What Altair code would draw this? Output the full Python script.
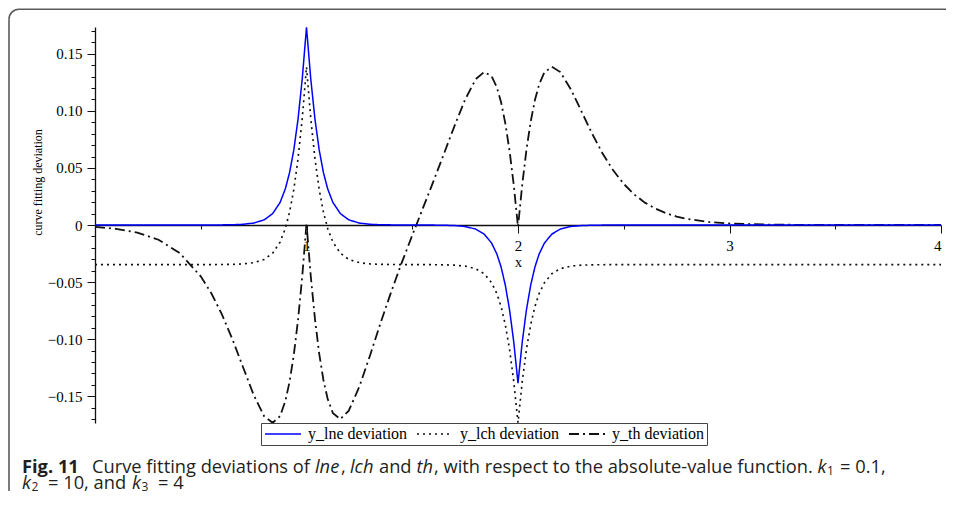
import altair as alt
import pandas as pd

# ---------------- data ----------------
X = [0.0, 0.1, 0.2, 0.3, 0.4, 0.5, 0.55, 0.6, 0.65, 0.7, 0.75, 0.8, 0.84, 0.875, 0.9, 0.92, 0.94, 0.96, 0.98, 1.0,
     1.02, 1.04, 1.06, 1.08, 1.1, 1.125, 1.16, 1.2, 1.25, 1.3, 1.35, 1.4, 1.45, 1.5,
     1.55, 1.6, 1.65, 1.7, 1.75, 1.8, 1.84, 1.875, 1.9, 1.92, 1.94, 1.96, 1.98, 2.0,
     2.02, 2.04, 2.06, 2.08, 2.1, 2.125, 2.16, 2.2, 2.25, 2.3, 2.35, 2.4, 2.45, 2.5,
     2.55, 2.6, 2.65, 2.7, 2.75, 2.8, 2.9, 3.0, 3.2, 3.4, 3.6, 3.8, 4.0]

LNE = [0, 0, 0, 0, 0, 0, 0, 0.0001, 0.0002, 0.0006, 0.0017, 0.0045, 0.0100, 0.0197, 0.0317, 0.0460, 0.0658, 0.0928, 0.1283, 0.1733,
       0.1283, 0.0928, 0.0658, 0.0460, 0.0317, 0.0197, 0.0100, 0.0045, 0.0017, 0.0006, 0.0002, 0.0001, 0, 0,
       0, -0.0001, -0.0002, -0.0005, -0.0013, -0.0036, -0.0080, -0.0158, -0.0254, -0.0368, -0.0527, -0.0742, -0.1026, -0.1386,
       -0.1026, -0.0742, -0.0527, -0.0368, -0.0254, -0.0158, -0.0080, -0.0036, -0.0013, -0.0005, -0.0002, -0.0001, 0, 0,
       0, 0, 0, 0, 0, 0, 0, 0, 0, 0, 0, 0, 0]

LCH = [-0.0347, -0.0347, -0.0347, -0.0347, -0.0347, -0.0347, -0.0347, -0.0346, -0.0345, -0.0341, -0.0330, -0.0302, -0.0247,
       -0.0150, -0.0030, 0.0113, 0.0311, 0.0581, 0.0936, 0.1386,
       0.0936, 0.0581, 0.0311, 0.0113, -0.0030, -0.0150, -0.0247, -0.0302, -0.0330, -0.0341, -0.0345, -0.0346, -0.0347, -0.0347,
       -0.0347, -0.0348, -0.0349, -0.0352, -0.0360, -0.0383, -0.0427, -0.0505, -0.0601, -0.0715, -0.0874, -0.1089, -0.1373, -0.1733,
       -0.1373, -0.1089, -0.0874, -0.0715, -0.0601, -0.0505, -0.0427, -0.0383, -0.0360, -0.0352, -0.0349, -0.0348, -0.0347, -0.0347,
       -0.0347, -0.0347, -0.0347, -0.0347, -0.0347, -0.0347, -0.0347, -0.0347, -0.0347, -0.0347, -0.0347, -0.0347, -0.0347]

TH = [-0.0017, -0.0034, -0.0066, -0.0129, -0.0245, -0.0450, -0.0598, -0.0783, -0.1002, -0.1246, -0.1488, -0.1677, -0.1733,
      -0.1675, -0.1543, -0.1373, -0.1138, -0.0831, -0.0448, 0.0013,
      -0.0445, -0.0823, -0.1127, -0.1358, -0.1523, -0.1649, -0.1701, -0.1627, -0.1416, -0.1145, -0.0860, -0.0588, -0.0332, -0.0090,
      0.0145, 0.0382, 0.0625, 0.0869, 0.1099, 0.1278, 0.1341, 0.1305, 0.1206, 0.1076, 0.0891, 0.0651, 0.0349, -0.0017,
      0.0353, 0.0660, 0.0906, 0.1095, 0.1232, 0.1338, 0.1386, 0.1340, 0.1189, 0.0996, 0.0802, 0.0626, 0.0479, 0.0360,
      0.0267, 0.0196, 0.0143, 0.0103, 0.0074, 0.0053, 0.0027, 0.0013, 0.0003, 0.0001, 0.0, 0.0, 0.0]

SERIES = ["y_lne deviation", "y_lch deviation", "y_th deviation"]
# y ticks every 0.01 (labelled every 0.05), x ticks every 0.5 (labelled every 1)
Y_TICKS = [-0.17, -0.16, -0.15, -0.14, -0.13, -0.12, -0.11, -0.10, -0.09, -0.08, -0.07, -0.06, -0.05, -0.04,
           -0.03, -0.02, -0.01, 0, 0.01, 0.02, 0.03, 0.04, 0.05, 0.06, 0.07, 0.08, 0.09, 0.10, 0.11, 0.12,
           0.13, 0.14, 0.15, 0.16, 0.17]
X_TICKS = [0.5, 1, 1.5, 2, 2.5, 3, 3.5, 4]
X_DOMAIN = [0, 4]
Y_DOMAIN = [-0.1735, 0.1735]

# ---------------- layout ----------------
W, H = 846, 396
PAD_L, PAD_T, PAD_R, PAD_B = 87, 19, 7, 71
SVG_W, SVG_H = PAD_L + W + PAD_R, PAD_T + H + PAD_B
SERIF = "Liberation Serif"
SANS = "Open Sans"
INK = "#111111"
FRAME = "#5a5a5a"
y0 = H * (Y_DOMAIN[1] - 0) / (Y_DOMAIN[1] - Y_DOMAIN[0])   # pixel row of y = 0

rows = []
for name, ys in [(SERIES[2], TH), (SERIES[1], LCH), (SERIES[0], LNE)]:
    for xv, yv in zip(X, ys):
        rows.append({"x": xv, "y": yv, "series": name})
df = pd.DataFrame(rows)

xscale = alt.Scale(domain=X_DOMAIN, nice=False, zero=False)
yscale = alt.Scale(domain=Y_DOMAIN, nice=False, zero=False)

legend = alt.Legend(
    title=None, orient="none", legendX=166, legendY=396, direction="horizontal",
    symbolType="stroke", symbolSize=1296, symbolStrokeWidth=1.5, clipHeight=16,
    labelFont=SERIF, labelFontSize=16, labelColor="black", labelOffset=6,
    columnPadding=8, padding=3, strokeColor="#444444", fillColor="white",
)

x_major_test = "datum.value % 1 == 0"
y_major_test = "abs(round(datum.value * 100)) % 5 == 0"

lines = alt.Chart(df).mark_line().encode(
    x=alt.X("x:Q", scale=xscale, axis=alt.Axis(
        values=X_TICKS, title="x", offset=-(H - y0), grid=False,
        labelExpr="datum.value % 1 == 0 ? format(datum.value, 'd') : ''",
        tickSize={"condition": {"test": x_major_test, "value": 8}, "value": 4},
        tickColor=INK, domainColor=INK, domainWidth=1.3, tickWidth=1,
        labelFont=SERIF, labelFontSize=15, labelColor="black", labelPadding=5,
        titleFont=SERIF, titleFontSize=14, titleFontWeight="normal", titleColor="black",
        titleX=W / 2, titleY=41, titleBaseline="alphabetic", titleAlign="center")),
    y=alt.Y("y:Q", scale=yscale, axis=alt.Axis(
        values=Y_TICKS, title="curve fitting deviation", grid=False,
        labelExpr="abs(round(datum.value * 100)) % 5 == 0 ? (round(datum.value * 100) == 0 ? '0' : format(datum.value, '.2f')) : ''",
        tickSize={"condition": {"test": y_major_test, "value": 8}, "value": 4},
        tickColor=INK, domainColor=INK, domainWidth=1.3, tickWidth=1,
        labelFont=SERIF, labelFontSize=15, labelColor="black", labelPadding=5,
        titleFont=SERIF, titleFontSize=12, titleFontWeight="normal", titleColor="black",
        titleAngle=-90, titleX=-58, titleY=155, titleAlign="center", titleBaseline="middle")),
    color=alt.Color("series:N", scale=alt.Scale(domain=SERIES, range=["#0000ff", INK, INK]), legend=legend),
    strokeDash=alt.StrokeDash("series:N", scale=alt.Scale(domain=SERIES, range=[[1, 0], [2, 4], [10, 4, 2, 4]]), legend=legend),
    strokeWidth=alt.StrokeWidth("series:N", scale=alt.Scale(domain=SERIES, range=[1.5, 1.8, 1.3]), legend=None),
)

# ---------------- figure frame (open box with rounded top-left corner), kept inside the canvas ----------------
one = pd.DataFrame({"k": [0]})
FX, FY, R = -86, -17.8, 10
frame_top = alt.Chart(one).mark_rule(color=FRAME, strokeWidth=1.6).encode(
    x=alt.value(FX + R), x2=alt.value(SVG_W - PAD_L - 2), y=alt.value(FY))
frame_left = alt.Chart(one).mark_rule(color=FRAME, strokeWidth=1.6).encode(
    x=alt.value(FX), y=alt.value(FY + R), y2=alt.value(SVG_H - PAD_T - 3))
frame_corner = alt.Chart(one).mark_arc(
    radius=R + 0.8, radius2=R - 0.8, theta=4.7124, theta2=6.2832, color=FRAME,
).encode(x=alt.value(FX + R), y=alt.value(FY + R))


def cap(text, px, py, size=18.3, weight="normal", style="normal"):
    return alt.Chart(one).mark_text(
        text=text, align="left", baseline="alphabetic", font=SANS, fontSize=size,
        fontWeight=weight, fontStyle=style, color="#231f20",
    ).encode(x=alt.value(px - 95), y=alt.value(py - 27))


B1, B2 = 473, 489
caption = [
    cap("Fig. 11", 22, B1, weight="bold"),
    cap("Curve fitting deviations of", 92, B1),
    cap("lne", 315, B1, style="italic"),
    cap(",", 341, B1),
    cap("lch", 350, B1, style="italic"),
    cap("and", 379, B1),
    cap("th", 416.5, B1, style="italic"),
    cap(", with respect to the absolute-value function.", 434, B1),
    cap("k", 817.5, B1, style="italic"),
    cap("1", 827, B1 + 2, size=12),
    cap("= 0.1,", 840, B1),
    cap("k", 22, B2, style="italic"),
    cap("2", 31.5, B2 + 2, size=12),
    cap("= 10, and", 48, B2),
    cap("k", 132, B2, style="italic"),
    cap("3", 141.5, B2 + 2, size=12),
    cap("= 4", 158, B2),
]

chart = alt.layer(frame_top, frame_left, frame_corner, lines, *caption).properties(
    width=W, height=H,
    padding={"left": PAD_L, "top": PAD_T, "right": PAD_R, "bottom": PAD_B},
    autosize=alt.AutoSizeParams(type="none"),
).configure_view(stroke=None)

chart.save("out.html", embed_options={"renderer": "svg", "actions": False})
